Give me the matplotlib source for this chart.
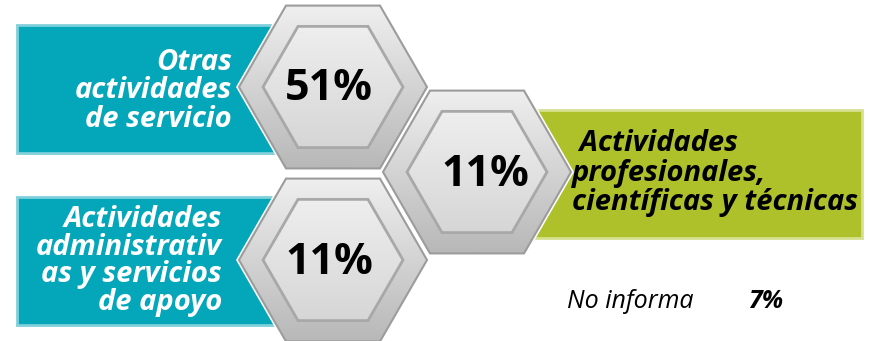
import numpy as np
import matplotlib
matplotlib.use("Agg")
import matplotlib.pyplot as plt
from matplotlib.patches import RegularPolygon, Rectangle

# ---- data ----
categories = ["Otras\nactividades\nde servicio",
              "Actividades\nprofesionales,\ncientíficas y técnicas",
              "Actividades\nadministrativ\nas y servicios\nde apoyo"]
values = [51, 11, 11]
value_labels = [f"{v}%" for v in values]
other_label = "No informa"
other_value = 7

W, H = 877, 341
fig = plt.figure(figsize=(W / 100, H / 100), dpi=100)
ax = fig.add_axes([0, 0, 1, 1])
ax.set_axis_off()

TEAL = "#04A6BA"
TEAL_EDGE = "#7FD0DA"
GREEN = "#AFC12A"
GREEN_EDGE = "#D6E08F"

FONT = ["Open Sans", "DejaVu Sans"]

# boxes (drawn behind hexagons)
boxes = [(17, 25, 265, 128, TEAL, TEAL_EDGE),
         (535, 110, 327, 128, GREEN, GREEN_EDGE),
         (17, 197, 265, 128, TEAL, TEAL_EDGE)]
for (x, y, w, h, fc, ec) in boxes:
    ax.add_patch(Rectangle((x, y), w, h, facecolor=fc, edgecolor=ec, lw=2, zorder=1))

# hexagons
centers = [(333, 87), (477, 172), (333, 260)]
R_out, R_in = 94, 70
draw_order = [0, 2, 1]

def grad_hex(cx, cy, R, top, bottom, z, ec, lw):
    hexp = RegularPolygon((cx, cy), 6, radius=R, orientation=np.pi / 6,
                          facecolor="none", edgecolor=ec, lw=lw, zorder=z + 0.5)
    ax.add_patch(hexp)
    h = R * np.sqrt(3) / 2
    n = 100
    t = np.linspace(0, 1, n)[:, None]
    c0 = np.array(matplotlib.colors.to_rgb(top))
    c1 = np.array(matplotlib.colors.to_rgb(bottom))
    img = (1 - t)[..., None] * c0 + t[..., None] * c1
    img = np.repeat(img, 2, axis=1)
    im = ax.imshow(img, extent=[cx - R, cx + R, cy + h, cy - h], origin="upper",
                   zorder=z, aspect="auto", interpolation="bilinear")
    clip = RegularPolygon((cx, cy), 6, radius=R, orientation=np.pi / 6,
                          facecolor="none", edgecolor="none", transform=ax.transData)
    ax.add_patch(clip)
    im.set_clip_path(clip)

for k, i in enumerate(draw_order):
    cx, cy = centers[i]
    z = 3 + k * 3
    # white outline
    ax.add_patch(RegularPolygon((cx, cy), 6, radius=R_out + 3, orientation=np.pi / 6,
                                facecolor="white", edgecolor="none", zorder=z - 0.5))
    grad_hex(cx, cy, R_out, "#EFEFEF", "#B8B8B8", z, "#9C9C9C", 1.5)
    grad_hex(cx, cy, R_in, "#EEEEEE", "#D6D6D6", z + 1, "#A8A8A8", 2.0)
    ax.text(cx - 4 if i != 1 else cx + 8, cy + 2, value_labels[i], ha="center", va="center",
            fontsize=31, fontweight="bold", color="black", family=FONT, zorder=z + 2)

# category labels
ax.text(232, 91, categories[0], ha="right", va="center", color="white",
        fontsize=21, fontweight="bold", style="italic", family=FONT,
        linespacing=0.98, zorder=2)
ax.text(222, 261, categories[2], ha="right", va="center", color="white",
        fontsize=21, fontweight="bold", style="italic", family=FONT,
        linespacing=0.95, zorder=2)
ax.text(572, 173, " " + categories[1], ha="left", va="center", color="black",
        fontsize=21, fontweight="bold", style="italic", family=FONT,
        linespacing=1.03, zorder=12, multialignment="left")

ax.text(567, 301, other_label, ha="left", va="center", color="black",
        fontsize=18, style="italic", family=FONT)
ax.text(748, 301, f"{other_value}%", ha="left", va="center", color="black",
        fontsize=18, style="italic", fontweight="bold", family=FONT)

ax.set_xlim(0, W)
ax.set_ylim(H, 0)
fig.savefig("out.png", dpi=100, facecolor="white")
